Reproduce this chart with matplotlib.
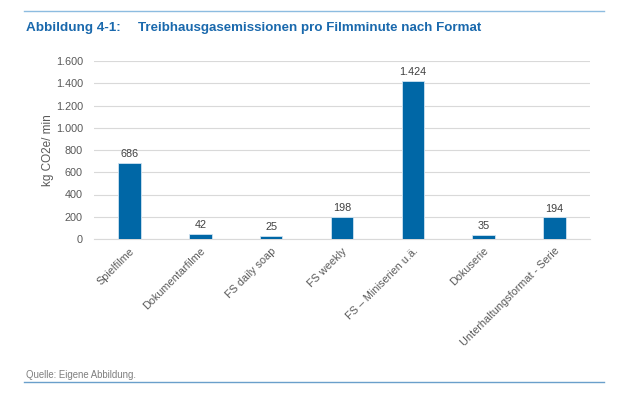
import numpy as np
import matplotlib.pyplot as plt
from matplotlib.lines import Line2D

formate = ["Spielfilme", "Dokumentarfilme", "FS daily soap", "FS weekly",
           "FS \u2013 Miniserien u.ä.", "Dokuserie", "Unterhaltungsformat - Serie"]
werte = [686, 42, 25, 198, 1424, 35, 194]
yticks = [0, 200, 400, 600, 800, 1000, 1200, 1400, 1600]

plt.rcParams['font.family'] = ['Liberation Sans', 'DejaVu Sans']

blau = "#0067A6"
grau = "#595959"

fig = plt.figure(figsize=(6.42, 3.98), dpi=100)
ax = fig.add_axes([94/642, 1 - 239/398, 496/642, 178/398])

x = np.arange(len(formate))
ax.bar(x, werte, width=0.32, color=blau, edgecolor="#CFE2F1", linewidth=0.6, zorder=3)
for xi, v in zip(x, werte):
    label = f"{v:,}".replace(",", ".")
    ax.text(xi, v + 35, label, ha="center", va="bottom", fontsize=7.8, color="#404040")

ax.set_xlim(-0.5, len(formate) - 0.5)
ax.set_ylim(0, 1600)
ax.set_yticks(yticks)
ax.set_yticklabels([f"{t:,}".replace(",", ".") for t in yticks])
ax.set_xticks(x)
ax.set_xticklabels(formate, rotation=45, ha="right", rotation_mode="anchor")
ax.tick_params(axis="both", length=0, labelsize=7.8, labelcolor=grau)
ax.tick_params(axis="y", pad=8)
ax.tick_params(axis="x", pad=5)
ax.grid(axis="y", color="#D9D9D9", linewidth=0.8, zorder=0)
for s in ["top", "right", "left"]:
    ax.spines[s].set_visible(False)
ax.spines["bottom"].set_color("#D9D9D9")
ax.spines["bottom"].set_linewidth(0.8)
ax.set_ylabel("kg CO2e/ min", fontsize=8.5, color=grau, labelpad=1)

fig.add_artist(Line2D([24/642, 604/642], [1 - 11/398] * 2, color="#8DBCE0", linewidth=1.0))
fig.add_artist(Line2D([24/642, 604/642], [1 - 382/398] * 2, color="#6A9FCB", linewidth=1.0))
fig.text(26/642, 1 - 28/398, "Abbildung 4-1:", fontsize=9.7, fontweight="bold", color="#1A69AD", va="center")
fig.text(138/642, 1 - 28/398, "Treibhausgasemissionen pro Filmminute nach Format", fontsize=9.6,
         fontweight="bold", color="#1A69AD", va="center")
fig.text(26/642, 1 - 375/398, "Quelle: Eigene Abbildung.", fontsize=6.9, color="#7F7F7F", va="center")

fig.savefig("out.png", dpi=100)
